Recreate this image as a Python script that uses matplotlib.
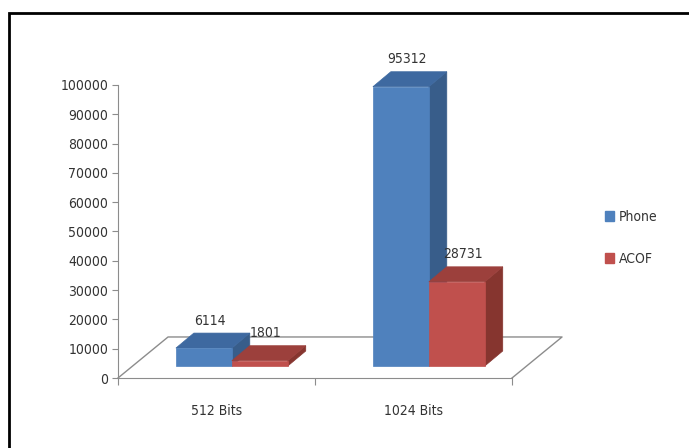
import matplotlib
matplotlib.use("Agg")
import matplotlib.pyplot as plt
from matplotlib.patches import Polygon, Rectangle, Patch

categorias = ["512 Bits", "1024 Bits"]
series = ["Phone", "ACOF"]
valores = {"Phone": [6114, 95312], "ACOF": [1801, 28731]}
yticks = list(range(0, 100001, 10000))

FRENTE = {"Phone": "#4f81bd", "ACOF": "#c0504d"}
ARRIBA = {"Phone": "#3e69a0", "ACOF": "#9c403c"}
LADO = {"Phone": "#385d8a", "ACOF": "#86352f"}
TEXTO = "#333333"
EJE = "#8c8c8c"

plt.rcParams["font.family"] = ["DejaVu Sans"]
plt.rcParams["font.stretch"] = "condensed"
FS = 10

fig = plt.figure(figsize=(6.89, 4.48), dpi=100)
ax = fig.add_axes([118/689, 70/448, 394/689, 293/448])
ax.set_xlim(0, 2)
ax.set_ylim(0, 100000)

# piso 3D (profundidad del grafico)
piso_dx, piso_dy = 0.254, 14000
ax.plot([0, piso_dx, 2 + piso_dx, 2], [0, piso_dy, piso_dy, 0],
        color=EJE, lw=1, zorder=1, clip_on=False)

# barras 3D
off0, ancho = 0.294, 0.284
base = 4100
bdx, bdy = 0.091, 5120
for i, cat in enumerate(categorias):
    for j, s in enumerate(series):
        v = valores[s][i]
        x0 = i + off0 + j * ancho
        x1 = x0 + ancho
        y0, y1 = base, base + v
        lado = [(x1, y0), (x1 + bdx, y0 + bdy), (x1 + bdx, y1 + bdy), (x1, y1)]
        tapa = [(x0, y1), (x0 + bdx, y1 + bdy), (x1 + bdx, y1 + bdy), (x1, y1)]
        frente = [(x0, y0), (x1, y0), (x1, y1), (x0, y1)]
        for pts, c in [(lado, LADO[s]), (tapa, ARRIBA[s]), (frente, FRENTE[s])]:
            ax.add_patch(Polygon(pts, closed=True, facecolor=c, edgecolor=c,
                                 lw=0.5, zorder=3, clip_on=False))
        ax.annotate(str(v), xy=(x0 + ancho / 2 + 0.03, y1 + bdy), xytext=(0, 4),
                    textcoords="offset points", ha="center", va="bottom",
                    fontsize=FS, color=TEXTO, zorder=5, annotation_clip=False)

# ejes
for lado_eje in ["top", "right"]:
    ax.spines[lado_eje].set_visible(False)
ax.spines["left"].set_color(EJE)
ax.spines["bottom"].set_color(EJE)
ax.set_facecolor("none")
ax.set_yticks(yticks)
ax.set_yticklabels([str(t) for t in yticks], fontsize=FS, color=TEXTO)
ax.tick_params(axis="y", length=4, color=EJE, pad=3)
ax.set_xticks([0, 1, 2])
ax.set_xticklabels(["", "", ""])
ax.set_xticks([0.5, 1.5], minor=True)
ax.set_xticklabels(categorias, minor=True, fontsize=FS, color=TEXTO)
ax.tick_params(axis="x", which="major", length=5, color=EJE)
ax.tick_params(axis="x", which="minor", length=0, pad=18.5)

# leyenda
handles = [Patch(facecolor=FRENTE[s], edgecolor=FRENTE[s], label=s) for s in series]
fig.legend(handles=handles, loc="center left", bbox_to_anchor=(592/689, 1 - 238/448),
           frameon=False, fontsize=FS, handlelength=0.7, handleheight=0.7,
           handletextpad=0.35, labelspacing=2.0, labelcolor=TEXTO)

# marco
fig.patches.append(Rectangle((9/689, -0.1), 1.2, 1.1 - 13/448, transform=fig.transFigure,
                             fill=False, edgecolor="black", lw=2))

fig.savefig("out.png", dpi=100, facecolor="white")
